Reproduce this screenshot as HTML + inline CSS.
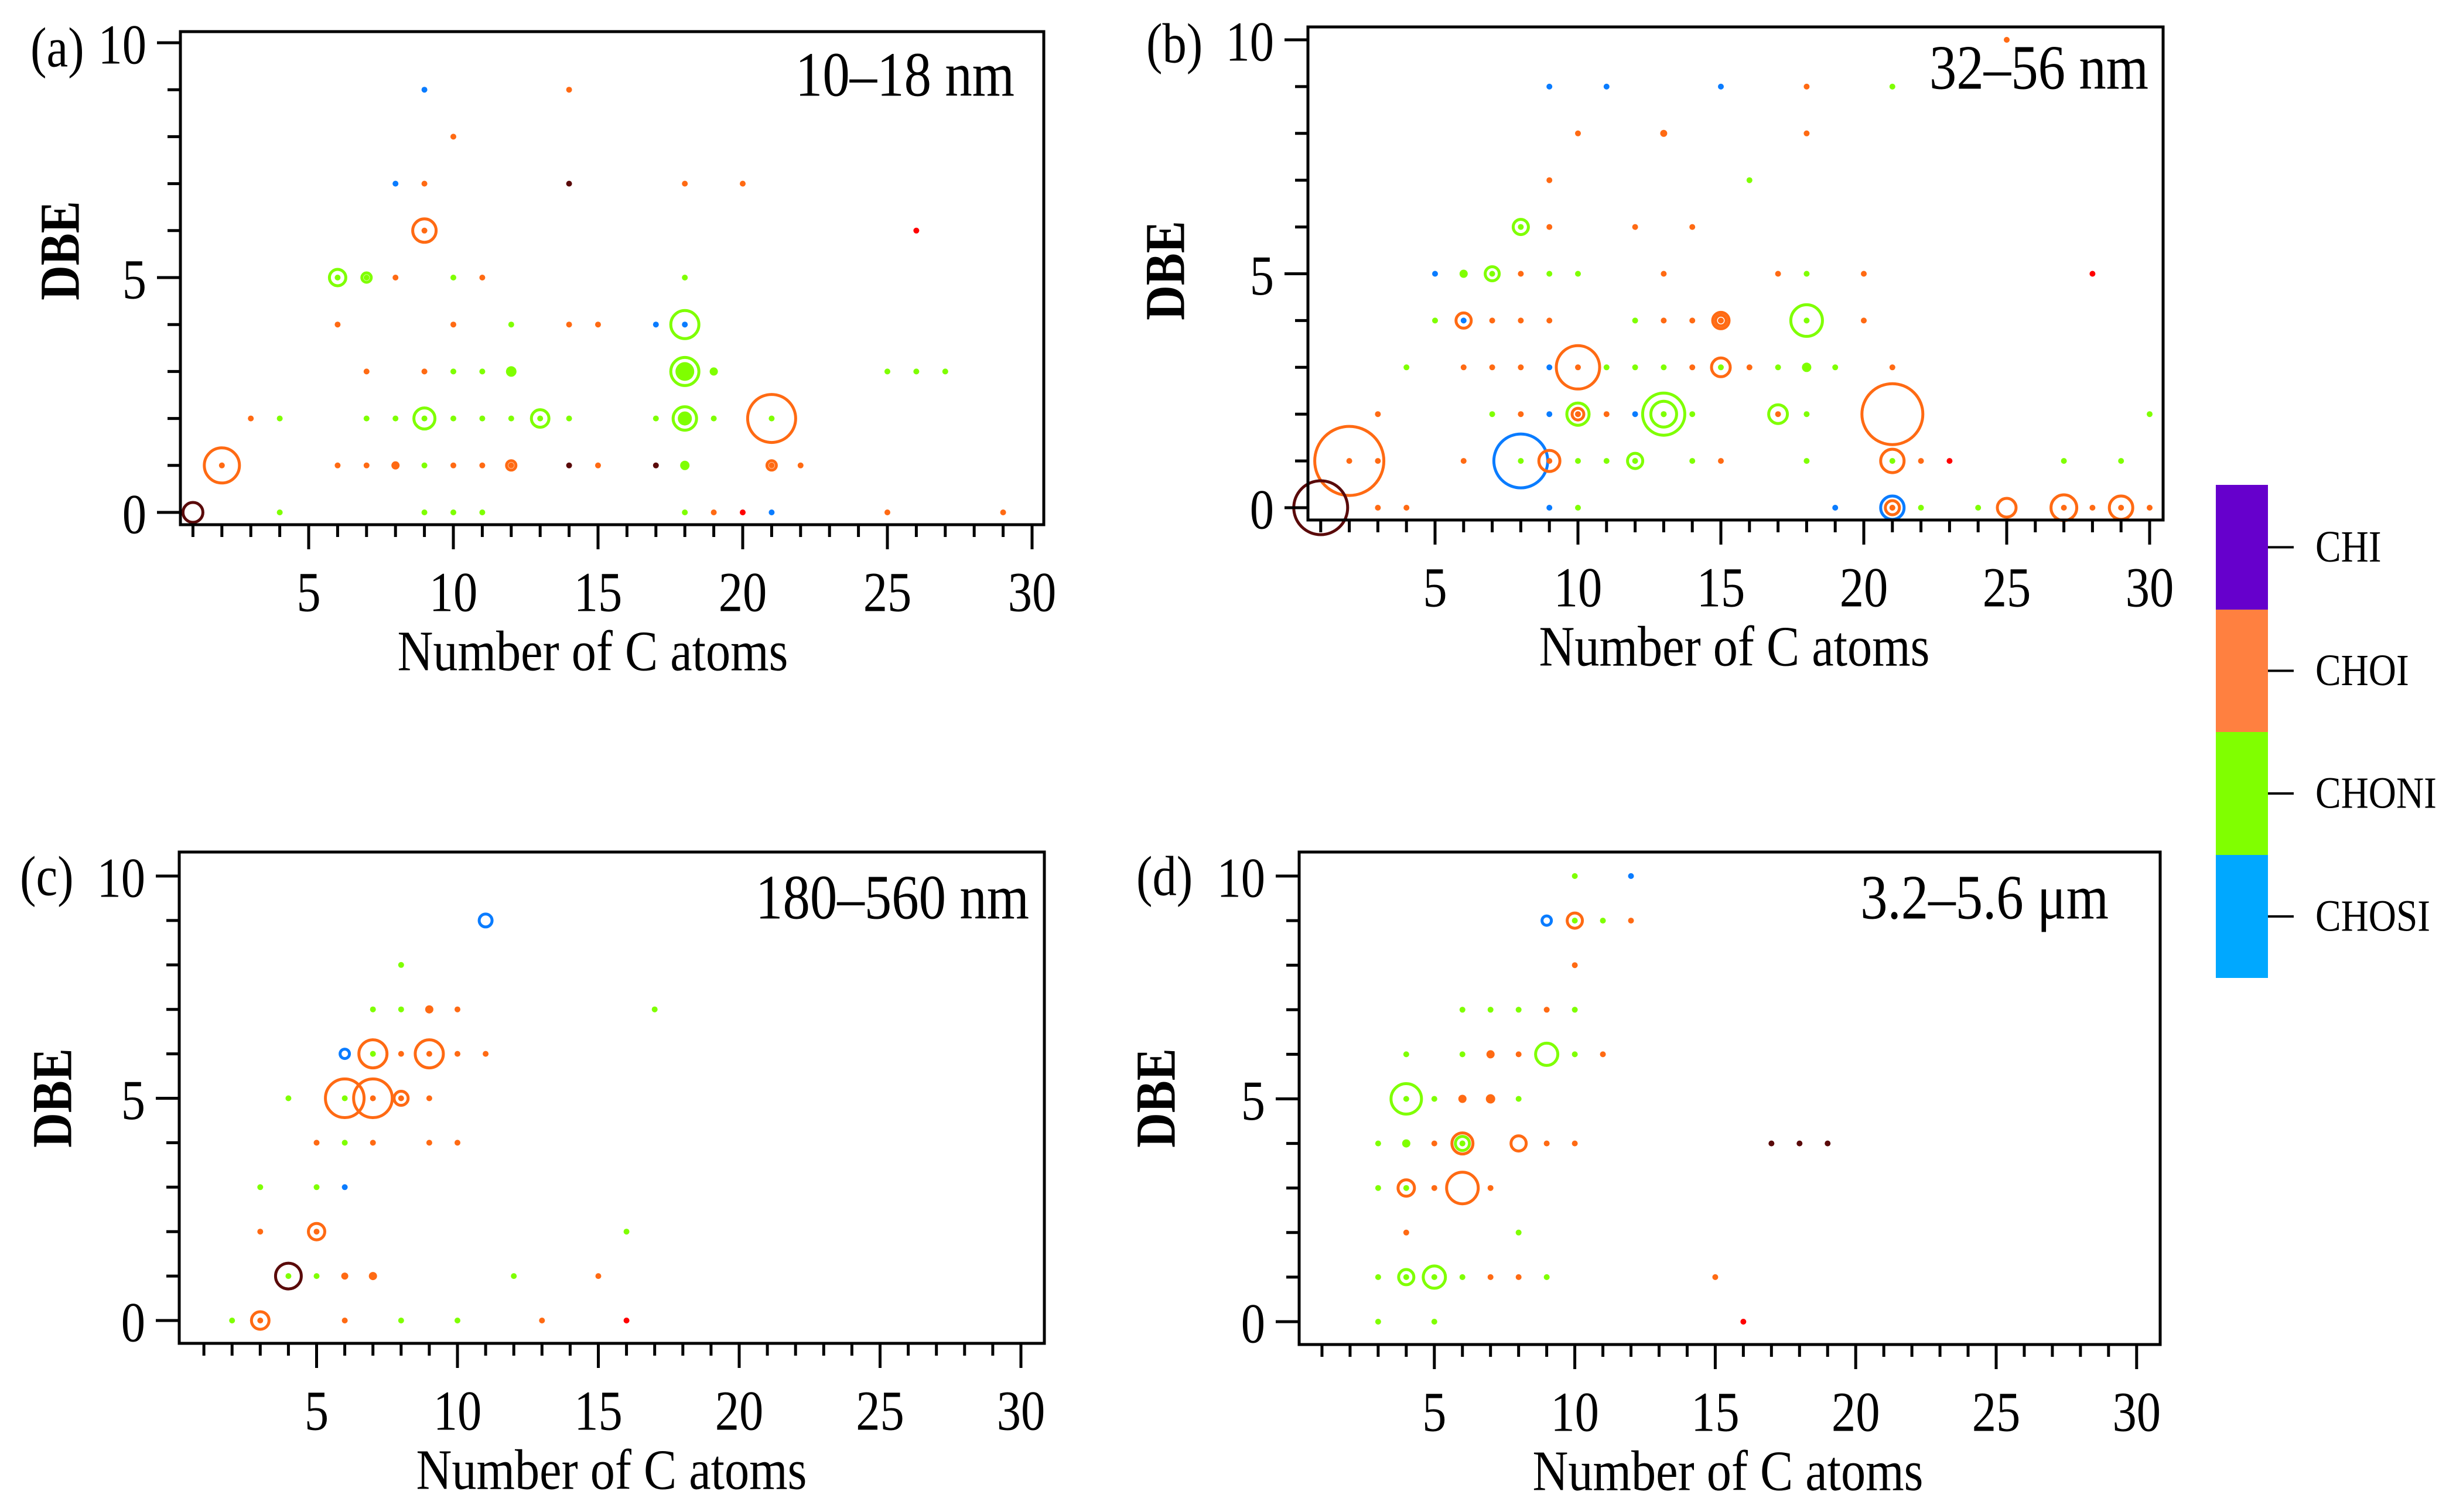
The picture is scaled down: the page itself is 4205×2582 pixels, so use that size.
<!DOCTYPE html>
<html><head><meta charset="utf-8">
<style>
html,body{margin:0;padding:0;background:#fff;}
svg{display:block;}
svg text{font-family:"Liberation Serif","Times New Roman",serif;}
</style></head>
<body>
<svg id="fig" width="4205" height="2582" viewBox="0 0 4205 2582" xmlns="http://www.w3.org/2000/svg" font-family="Liberation Serif, serif"></svg>
<script>
// Data: [C atoms, DBE, ring radius (neg = filled dot), ring class, dot class]
const panelA = [
[9,9,0,'','b'],[14,9,0,'','o'],[10,8,0,'','o'],
[8,7,0,'','b'],[9,7,0,'','o'],[14,7,0,'','k'],[18,7,0,'','o'],[20,7,0,'','o'],
[9,6,20,'o','o'],[26,6,0,'','r'],
[6,5,14,'g','g'],[7,5,8,'g','g'],[8,5,0,'','o'],[10,5,0,'','g'],[11,5,0,'','o'],[18,5,0,'','g'],
[6,4,0,'','o'],[10,4,0,'','o'],[12,4,0,'','g'],[14,4,0,'','o'],[15,4,0,'','o'],[17,4,0,'','b'],[18,4,24,'g','b'],
[7,3,0,'','o'],[9,3,0,'','o'],[10,3,0,'','g'],[11,3,0,'','g'],[12,3,-9,'','g'],[18,3,24,'g','g'],[18,3,-16,'','g'],[19,3,-7,'','g'],[25,3,0,'','g'],[26,3,0,'','g'],[27,3,0,'','g'],
[3,2,0,'','o'],[4,2,0,'','g'],[7,2,0,'','g'],[8,2,0,'','g'],[9,2,18,'g','g'],[10,2,0,'','g'],[11,2,0,'','g'],[12,2,0,'','g'],[13,2,15,'g','g'],[14,2,0,'','g'],[17,2,0,'','g'],[18,2,20,'g','g'],[18,2,-12,'','g'],[19,2,0,'','g'],[21,2,41,'o','g'],
[2,1,30,'o','o'],[6,1,0,'','o'],[7,1,0,'','o'],[8,1,-7,'','o'],[9,1,0,'','g'],[10,1,0,'','o'],[11,1,0,'','o'],[12,1,8,'o','o'],[14,1,0,'','k'],[15,1,0,'','o'],[17,1,0,'','k'],[18,1,-8,'','g'],[21,1,8,'o','o'],[22,1,0,'','o'],
[1,0,17,'k',''],[4,0,0,'','g'],[9,0,0,'','g'],[10,0,0,'','g'],[11,0,0,'','g'],[18,0,0,'','g'],[19,0,0,'','o'],[20,0,0,'','r'],[21,0,0,'','b'],[25,0,0,'','o'],[29,0,0,'','o']
];
const panelB = [
[25,10,0,'','o'],
[9,9,0,'','b'],[11,9,0,'','b'],[15,9,0,'','b'],[18,9,0,'','o'],[21,9,0,'','g'],
[10,8,0,'','o'],[13,8,-6,'','o'],[18,8,0,'','o'],
[9,7,0,'','o'],[16,7,0,'','g'],
[8,6,13,'g','g'],[9,6,0,'','o'],[12,6,0,'','o'],[14,6,0,'','o'],
[5,5,0,'','b'],[6,5,-7,'','g'],[7,5,12,'g','g'],[8,5,0,'','o'],[9,5,0,'','g'],[10,5,0,'','g'],[13,5,0,'','o'],[17,5,0,'','o'],[18,5,0,'','g'],[20,5,0,'','o'],[28,5,0,'','r'],
[5,4,0,'','g'],[6,4,13,'o','b'],[7,4,0,'','o'],[8,4,0,'','o'],[9,4,0,'','o'],[12,4,0,'','g'],[13,4,0,'','o'],[14,4,0,'','o'],[15,4,14,'o','o'],[15,4,9,'o','o'],[18,4,27,'g','g'],[20,4,0,'','o'],
[4,3,0,'','g'],[6,3,0,'','o'],[7,3,0,'','o'],[8,3,0,'','o'],[9,3,0,'','b'],[10,3,37,'o','o'],[11,3,0,'','g'],[12,3,0,'','g'],[13,3,0,'','g'],[14,3,0,'','o'],[15,3,16,'o','g'],[16,3,0,'','o'],[17,3,0,'','g'],[18,3,-8,'','g'],[19,3,0,'','g'],[21,3,0,'','o'],
[3,2,0,'','o'],[7,2,0,'','g'],[8,2,0,'','o'],[9,2,0,'','b'],[10,2,19,'g','o'],[10,2,10,'o','o'],[11,2,0,'','o'],[12,2,0,'','b'],[13,2,36,'g','g'],[13,2,22,'g','g'],[14,2,0,'','g'],[17,2,16,'g','o'],[18,2,0,'','g'],[21,2,52,'o',''],[30,2,0,'','g'],
[2,1,59,'o','o'],[3,1,0,'','o'],[6,1,0,'','o'],[8,1,46,'b','g'],[9,1,18,'o','o'],[10,1,0,'','g'],[11,1,0,'','g'],[12,1,13,'g','g'],[14,1,0,'','g'],[15,1,0,'','o'],[18,1,0,'','g'],[21,1,20,'o','g'],[22,1,0,'','o'],[23,1,0,'','r'],[27,1,0,'','g'],[29,1,0,'','g'],
[1,0,46,'k',''],[3,0,0,'','o'],[4,0,0,'','o'],[9,0,0,'','b'],[10,0,0,'','g'],[19,0,0,'','b'],[21,0,20,'b','o'],[21,0,12,'o','o'],[22,0,0,'','g'],[24,0,0,'','g'],[25,0,16,'o',''],[27,0,22,'o','o'],[28,0,0,'','o'],[29,0,20,'o','o'],[30,0,0,'','o']
];
const panelC = [
[11,9,11,'b',''],[8,8,0,'','g'],
[7,7,0,'','g'],[8,7,0,'','g'],[9,7,-7,'','o'],[10,7,0,'','o'],[17,7,0,'','g'],
[6,6,8,'b',''],[7,6,24,'o','g'],[8,6,0,'','o'],[9,6,24,'o','o'],[10,6,0,'','o'],[11,6,0,'','o'],
[4,5,0,'','g'],[6,5,33,'o','g'],[7,5,33,'o','o'],[8,5,12,'o','o'],[9,5,0,'','o'],
[5,4,0,'','o'],[6,4,0,'','g'],[7,4,0,'','o'],[9,4,0,'','o'],[10,4,0,'','o'],
[3,3,0,'','g'],[5,3,0,'','g'],[6,3,0,'','b'],
[3,2,0,'','o'],[5,2,14,'o','o'],[16,2,0,'','g'],
[4,1,22,'k','g'],[5,1,0,'','g'],[6,1,-6,'','o'],[7,1,-7,'','o'],[12,1,0,'','g'],[15,1,0,'','o'],
[2,0,0,'','g'],[3,0,15,'o','o'],[6,0,0,'','o'],[8,0,0,'','g'],[10,0,0,'','g'],[13,0,0,'','o'],[16,0,0,'','r']
];
const panelD = [
[10,10,0,'','g'],[12,10,0,'','b'],
[9,9,8,'b',''],[10,9,13,'o','g'],[11,9,0,'','g'],[12,9,0,'','o'],
[10,8,0,'','o'],
[6,7,0,'','g'],[7,7,0,'','g'],[8,7,0,'','g'],[9,7,0,'','o'],[10,7,0,'','g'],
[4,6,0,'','g'],[6,6,0,'','g'],[7,6,-7,'','o'],[8,6,0,'','o'],[9,6,19,'g',''],[10,6,0,'','g'],[11,6,0,'','o'],
[4,5,26,'g','g'],[5,5,0,'','g'],[6,5,-7,'','o'],[7,5,-8,'','o'],[8,5,0,'','g'],
[3,4,0,'','g'],[4,4,-7,'','g'],[5,4,0,'','o'],[6,4,18,'o','g'],[6,4,12,'g','g'],[8,4,13,'o',''],[9,4,0,'','o'],[10,4,0,'','o'],[17,4,0,'','k'],[18,4,0,'','k'],[19,4,0,'','k'],
[3,3,0,'','g'],[4,3,14,'o','g'],[5,3,0,'','o'],[6,3,27,'o',''],[7,3,0,'','o'],
[4,2,0,'','o'],[8,2,0,'','g'],
[3,1,0,'','g'],[4,1,13,'g','g'],[5,1,19,'g','g'],[6,1,0,'','g'],[7,1,0,'','o'],[8,1,0,'','o'],[9,1,0,'','g'],[15,1,0,'','o'],
[3,0,0,'','g'],[5,0,0,'','g'],[16,0,0,'','r']
];
const xTickLabels = [5,10,15,20,25,30];
const yTickLabels = [0,5,10];
const legendLabels = ['CHI','CHOI','CHONI','CHOSI'];
const legendColors = ['#6600CC','#FF8040','#80FF00','#00A8FF'];

const COL = {o:'#FF6A13', g:'#7FFF00', b:'#0A7CFF', k:'#5A0A0A', r:'#FF0000'};
const FONT = '"Liberation Serif", "Times New Roman", serif';
const NS = 'http://www.w3.org/2000/svg';
const svg = document.getElementById('fig');
function mk(tag, attrs, parent){
  const e = document.createElementNS(NS, tag);
  for (const k in attrs) e.setAttribute(k, attrs[k]);
  if (tag === 'text') e.style.fontFamily = FONT;
  (parent||svg).appendChild(e);
  return e;
}
// condensed text placed at (x,y)
function txt(parent, x, y, size, anchor, extra, rot){
  const t = mk('text', Object.assign({x:0, y:0, 'font-size':size, 'text-anchor':anchor, 'dominant-baseline':'central',
    transform:`translate(${x},${y})${rot?' rotate(-90)':''} scale(0.86,1)`}, extra||{}), parent);
  return t;
}
const panels = [
 {id:'a', pts:panelA, box:[308,54,1782,896], x0:280, ux:49.4, y0:875, uy:80.2, title:'10–18 nm', tx:1732, ty:127, lab:'(a)', lx:52, ly:82, dx:103, dy:428, xl:1012},
 {id:'b', pts:panelB, box:[2233,46,3693,888], x0:2206, ux:48.8, y0:867, uy:79.9, title:'32–56 nm', tx:3668, ty:115, lab:'(b)', lx:1957, ly:75, dx:1990, dy:462, xl:2961},
 {id:'c', pts:panelC, box:[306,1455,1783,2294], x0:300, ux:48.1, y0:2255, uy:75.9, title:'180–560 nm', tx:1757, ty:1532, lab:'(c)', lx:34, ly:1497, dx:90, dy:1875, xl:1044},
 {id:'d', pts:panelD, box:[2218,1455,3688,2296], x0:2209, ux:47.96, y0:2257, uy:76.1, title:'3.2–5.6 μm', tx:3600, ty:1532, lab:'(d)', lx:1940, ly:1497, dx:1974, dy:1875, xl:2950}
];
panels.forEach(p => {
  const g = mk('g', {});
  
  
  const xs = c => p.x0 + c * p.ux;
  const ys = d => p.y0 - d * p.uy;
  const [L,T,R,B] = p.box;
  const pg = mk('g', {}, g);
  
  
  p.pts.forEach(pt => {
    const [c,d,r,rc,dc] = pt;
    const cx = xs(c), cy = ys(d);
    if (r > 0) {
      const ring = mk('circle', {cx:cx, cy:cy, r:r, fill:'none', stroke:COL[rc], 'stroke-width':5}, pg);
      
      
    } else if (r < 0) {
      const f = mk('circle', {cx:cx, cy:cy, r:-r, fill:COL[dc]}, pg);
      
      
      return;
    }
    if (dc) {
      const dot = mk('circle', {cx:cx, cy:cy, r:5, fill:COL[dc]}, pg);
      
      
    }
  });
  const fr = mk('rect', {x:L, y:T, width:R-L, height:B-T, fill:'none', stroke:'#000', 'stroke-width':5}, g);
  
  
  for (let c = 1; c <= 30; c++) {
    const maj = c % 5 === 0;
    const t = mk('line', {x1:xs(c), x2:xs(c), y1:B, y2:B + (maj?42:21), stroke:'#000', 'stroke-width':5}, g);
    
    
  }
  xTickLabels.forEach(v => {
    const t = txt(g, xs(v), B+116, 96, 'middle');
    t.textContent = v;
    
    
  });
  for (let d = 0; d <= 10; d++) {
    const maj = d % 5 === 0;
    const t = mk('line', {x1:L - (maj?40:22), x2:L, y1:ys(d), y2:ys(d), stroke:'#000', 'stroke-width':5}, g);
    
    
  }
  yTickLabels.forEach(v => {
    const t = txt(g, L-58, ys(v)+4, 96, 'end');
    t.textContent = v;
    
    
  });
  const xl = txt(g, p.xl, B+216, 98, 'middle');
  xl.textContent = 'Number of C atoms';
  
  
  const yl = txt(g, p.dx, p.dy, 96, 'middle', {'font-weight':'bold'}, true);
  yl.textContent = 'DBE';
  
  
  const tt = txt(g, p.tx, p.ty, 108, 'end');
  tt.textContent = p.title;
  
  
  const lb = txt(g, p.lx, p.ly, 96, 'start');
  lb.textContent = p.lab;
  
  
});
const lg = mk('g', {});


const segTops = [828,1041,1250,1460,1670];
legendLabels.forEach((name, i) => {
  const y1 = segTops[i], y2 = segTops[i+1];
  const r = mk('rect', {x:3783, y:y1, width:89, height:y2-y1, fill:legendColors[i]}, lg);
  
  
  const ym = (y1+y2)/2;
  const l = mk('line', {x1:3872, x2:3916, y1:ym, y2:ym, stroke:'#000', 'stroke-width':4}, lg);
  
  
  const t = txt(lg, 3953, ym, 76, 'start');
  t.textContent = name;
  
  
});
</script>
</body></html>
